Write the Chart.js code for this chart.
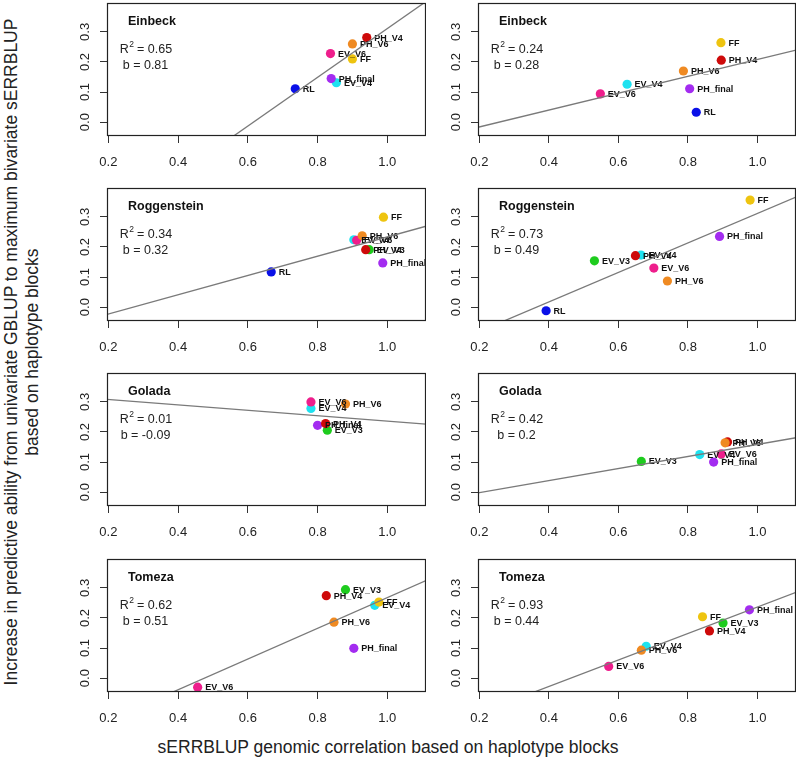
<!DOCTYPE html>
<html lang="en">
<head>
<meta charset="UTF-8">
<title>sERRBLUP genomic correlation vs increase in predictive ability</title>
<script src="https://cdn.jsdelivr.net/npm/chart.js"></script>
<style>
    body { margin: 0; background: #fff; font-family: "Liberation Sans", Arial, sans-serif; }
    #page { position: relative; width: 798px; height: 763px; overflow: hidden; background: #fff; }
    .panel { position: absolute; }
    .ytitle {
        position: absolute; left: -368px; top: 331px; width: 780px; height: 42px;
        transform: rotate(-90deg); text-align: center; font-size: 17.5px; line-height: 21px; color: #222;
        white-space: nowrap;
    }
    .xtitle {
        position: absolute; left: 88px; top: 737px; width: 600px; text-align: center;
        font-size: 17.5px; line-height: 20px; color: #222; white-space: nowrap;
    }
</style>
</head>
<body>
<div id="page">
    <canvas id="p0" class="panel"></canvas>
    <canvas id="p1" class="panel"></canvas>
    <canvas id="p2" class="panel"></canvas>
    <canvas id="p3" class="panel"></canvas>
    <canvas id="p4" class="panel"></canvas>
    <canvas id="p5" class="panel"></canvas>
    <canvas id="p6" class="panel"></canvas>
    <canvas id="p7" class="panel"></canvas>
    <div class="ytitle">Increase in predictive ability from univariate GBLUP to maximum bivariate sERRBLUP<br>based on haplotype blocks</div>
    <div class="xtitle">sERRBLUP genomic correlation based on haplotype blocks</div>
</div>
<script>
    // locations (one row of panels each)
    const locations = ['Einbeck', 'Roggenstein', 'Golada', 'Tomeza'];

    // axis ticks
    const xTicks = [0.2, 0.4, 0.6, 0.8, 1.0];
    const yTicks = [0.0, 0.1, 0.2, 0.3];

    // fit statistics, left and right column
    const r2Left = [0.65, 0.34, 0.01, 0.62];
    const bLeft = [0.81, 0.32, -0.09, 0.51];
    const interceptLeft = [-0.499, -0.0865, 0.326, -0.2425];
    const r2Right = [0.24, 0.73, 0.42, 0.93];
    const bRight = [0.28, 0.49, 0.2, 0.44];
    const interceptRight = [-0.0718, -0.1786, -0.0414, -0.2036];

    // points per panel
    const einbeckLeftLabels = ['RL', 'EV_V4', 'EV_V6', 'PH_final', 'PH_V4', 'PH_V6', 'FF'];
    const einbeckLeftX = [0.736, 0.854, 0.837, 0.839, 0.941, 0.900, 0.900];
    const einbeckLeftY = [0.111, 0.131, 0.228, 0.145, 0.281, 0.260, 0.210];

    const einbeckRightLabels = ['RL', 'EV_V4', 'EV_V6', 'PH_final', 'PH_V4', 'PH_V6', 'FF'];
    const einbeckRightX = [0.824, 0.625, 0.548, 0.805, 0.896, 0.787, 0.895];
    const einbeckRightY = [0.033, 0.126, 0.094, 0.111, 0.206, 0.170, 0.264];

    const roggensteinLeftLabels = ['RL', 'EV_V3', 'EV_V4', 'EV_V6', 'PH_final', 'PH_V4', 'PH_V6', 'FF'];
    const roggensteinLeftX = [0.667, 0.948, 0.904, 0.912, 0.987, 0.938, 0.928, 0.989];
    const roggensteinLeftY = [0.117, 0.191, 0.224, 0.222, 0.147, 0.191, 0.237, 0.299];

    const roggensteinRightLabels = ['RL', 'EV_V3', 'EV_V4', 'EV_V6', 'PH_final', 'PH_V4', 'PH_V6', 'FF'];
    const roggensteinRightX = [0.392, 0.531, 0.665, 0.702, 0.891, 0.649, 0.741, 0.979];
    const roggensteinRightY = [-0.012, 0.154, 0.173, 0.130, 0.235, 0.171, 0.087, 0.356];

    const goladaLeftLabels = ['EV_V3', 'EV_V4', 'EV_V6', 'PH_final', 'PH_V4', 'PH_V6'];
    const goladaLeftX = [0.828, 0.781, 0.781, 0.800, 0.823, 0.880];
    const goladaLeftY = [0.206, 0.278, 0.300, 0.222, 0.228, 0.293];

    const goladaRightLabels = ['EV_V3', 'EV_V4', 'EV_V6', 'PH_final', 'PH_V4', 'PH_V6'];
    const goladaRightX = [0.666, 0.834, 0.896, 0.874, 0.914, 0.907];
    const goladaRightY = [0.102, 0.125, 0.127, 0.100, 0.167, 0.164];

    const tomezaLeftLabels = ['EV_V3', 'EV_V4', 'EV_V6', 'PH_final', 'PH_V4', 'PH_V6', 'FF'];
    const tomezaLeftX = [0.880, 0.964, 0.456, 0.904, 0.825, 0.847, 0.976];
    const tomezaLeftY = [0.294, 0.242, -0.030, 0.099, 0.274, 0.186, 0.253];

    const tomezaRightLabels = ['EV_V3', 'EV_V4', 'EV_V6', 'PH_final', 'PH_V4', 'PH_V6', 'FF'];
    const tomezaRightX = [0.901, 0.680, 0.572, 0.977, 0.862, 0.666, 0.842];
    const tomezaRightY = [0.183, 0.106, 0.039, 0.227, 0.157, 0.093, 0.204];

    // colours per trait
    const traitColors = {
        FF: '#EEC410', PH_V4: '#CE0A0A', PH_V6: '#EF8A22', EV_V6: '#EE1E8C',
        PH_final: '#A32CF0', EV_V4: '#1EE2F0', RL: '#0A10E8', EV_V3: '#1ECC1E'
    };

    const xMin = 0.196, xMax = 1.111;
    const yMin = -0.046, yMax = 0.396;
    const FONT = '"Liberation Sans", Arial, sans-serif';

    // panel layout: canvas positions
    const colLeft = [60, 431];
    const colWidth = [366, 365];
    const rowTop = [0, 185, 370, 556];
    const yAxisW = 47, xAxisH = 40, padTop = 3, plotH = 133;

    // box round the plot + title and fit text
    const panelDecor = {
        id: 'panelDecor',
        afterDatasetDraw(chart, args) {
            if (args.index !== 1) return;
            // point labels right of the points
            const ctx = chart.ctx;
            const labels = chart.data.datasets[1].pointLabels;
            ctx.save();
            ctx.beginPath();
            ctx.rect(chart.chartArea.left, chart.chartArea.top, chart.chartArea.right - chart.chartArea.left, chart.chartArea.bottom - chart.chartArea.top);
            ctx.clip();
            ctx.font = 'bold 9px ' + FONT;
            ctx.fillStyle = '#111';
            ctx.textBaseline = 'middle';
            ctx.textAlign = 'left';
            args.meta.data.forEach((el, i) => {
                ctx.fillText(labels[i], el.x + 7.5, el.y + 0.5);
            });
            ctx.restore();
        },
        afterDraw(chart) {
            const ctx = chart.ctx;
            const a = chart.chartArea;
            const info = chart.options.plugins.panelDecor;
            ctx.save();
            ctx.strokeStyle = '#222';
            ctx.lineWidth = 1.2;
            ctx.strokeRect(Math.round(a.left) + 0.5, Math.round(a.top) + 0.5, Math.round(a.right - a.left) - 1, Math.round(a.bottom - a.top) - 1);

            ctx.fillStyle = '#111';
            ctx.textBaseline = 'middle';
            ctx.font = 'bold 12.5px ' + FONT;
            ctx.textAlign = 'left';
            ctx.fillText(info.title, a.left + 21, a.top + 18.5);

            // R^2 with superscript
            ctx.fillStyle = '#222';
            const big = '12.5px ' + FONT, small = '8.5px ' + FONT;
            const rest = ' = ' + info.r2;
            ctx.font = big;
            const wR = ctx.measureText('R').width, wRest = ctx.measureText(rest).width;
            ctx.font = small;
            const w2 = ctx.measureText('2').width;
            let x0 = a.left + 39 - (wR + w2 + wRest) / 2;
            const yR = a.top + 46.5;
            ctx.font = big;
            ctx.fillText('R', x0, yR);
            ctx.font = small;
            ctx.fillText('2', x0 + wR + 0.5, yR - 5);
            ctx.font = big;
            ctx.fillText(rest, x0 + wR + w2, yR);

            ctx.textAlign = 'center';
            ctx.fillText('b = ' + info.b, a.left + 38.5, a.top + 62.5);
            ctx.restore();
        }
    };

    // no extra room for first/last tick labels: the plot box is fixed
    function noPad(s) {
        s.paddingTop = 0; s.paddingBottom = 0; s.paddingLeft = 0; s.paddingRight = 0;
    }

    function makePanel(canvasId, col, row, labels, xs, ys, r2, b, intercept) {
        const canvas = document.getElementById(canvasId);
        const w = colWidth[col], h = padTop + plotH + xAxisH;
        canvas.width = w; canvas.height = h;
        canvas.style.left = colLeft[col] + 'px';
        canvas.style.top = rowTop[row] + 'px';
        canvas.style.width = w + 'px';
        canvas.style.height = h + 'px';

        const points = xs.map((x, i) => ({ x: x, y: ys[i] }));
        const fitLine = [
            { x: xMin, y: intercept + b * xMin },
            { x: xMax, y: intercept + b * xMax }
        ];

        new Chart(canvas.getContext('2d'), {
            type: 'scatter',
            data: {
                datasets: [
                    {
                        type: 'line',
                        data: fitLine,
                        borderColor: '#7a7a7a',
                        borderWidth: 1.3,
                        pointRadius: 0,
                        fill: false,
                        order: 0
                    },
                    {
                        data: points,
                        pointLabels: labels,
                        pointRadius: 4.6,
                        pointBorderWidth: 0,
                        pointBackgroundColor: labels.map(l => traitColors[l]),
                        pointBorderColor: labels.map(l => traitColors[l]),
                        order: 1
                    }
                ]
            },
            options: {
                responsive: false,
                animation: false,
                events: [],
                layout: { autoPadding: false, padding: { top: padTop, left: 0, right: 0, bottom: 0 } },
                plugins: {
                    legend: { display: false },
                    tooltip: { enabled: false },
                    panelDecor: { title: locations[row], r2: String(r2), b: String(b) }
                },
                scales: {
                    x: {
                        type: 'linear',
                        min: xMin,
                        max: xMax,
                        afterBuildTicks: s => { s.ticks = xTicks.map(v => ({ value: v })); },
                        afterFit: s => { s.height = xAxisH; noPad(s); },
                        grid: { drawOnChartArea: false, drawTicks: true, tickLength: 7, color: '#333', lineWidth: 1 },
                        border: { display: false },
                        ticks: {
                            autoSkip: false,
                            maxRotation: 0,
                            padding: 12,
                            color: '#222',
                            font: { size: 13, family: FONT },
                            callback: v => v.toFixed(1)
                        }
                    },
                    y: {
                        type: 'linear',
                        min: yMin,
                        max: yMax,
                        afterBuildTicks: s => { s.ticks = yTicks.map(v => ({ value: v })); },
                        afterFit: s => { s.width = yAxisW; noPad(s); },
                        grid: { drawOnChartArea: false, drawTicks: true, tickLength: 7, color: '#333', lineWidth: 1 },
                        border: { display: false },
                        ticks: {
                            autoSkip: false,
                            minRotation: 90,
                            maxRotation: 90,
                            crossAlign: 'center',
                            padding: 6,
                            color: '#222',
                            font: { size: 13, family: FONT },
                            callback: v => v.toFixed(1)
                        }
                    }
                }
            },
            plugins: [panelDecor]
        });
    }

    makePanel('p0', 0, 0, einbeckLeftLabels, einbeckLeftX, einbeckLeftY, r2Left[0], bLeft[0], interceptLeft[0]);
    makePanel('p1', 1, 0, einbeckRightLabels, einbeckRightX, einbeckRightY, r2Right[0], bRight[0], interceptRight[0]);
    makePanel('p2', 0, 1, roggensteinLeftLabels, roggensteinLeftX, roggensteinLeftY, r2Left[1], bLeft[1], interceptLeft[1]);
    makePanel('p3', 1, 1, roggensteinRightLabels, roggensteinRightX, roggensteinRightY, r2Right[1], bRight[1], interceptRight[1]);
    makePanel('p4', 0, 2, goladaLeftLabels, goladaLeftX, goladaLeftY, r2Left[2], bLeft[2], interceptLeft[2]);
    makePanel('p5', 1, 2, goladaRightLabels, goladaRightX, goladaRightY, r2Right[2], bRight[2], interceptRight[2]);
    makePanel('p6', 0, 3, tomezaLeftLabels, tomezaLeftX, tomezaLeftY, r2Left[3], bLeft[3], interceptLeft[3]);
    makePanel('p7', 1, 3, tomezaRightLabels, tomezaRightX, tomezaRightY, r2Right[3], bRight[3], interceptRight[3]);
</script>
</body>
</html>
